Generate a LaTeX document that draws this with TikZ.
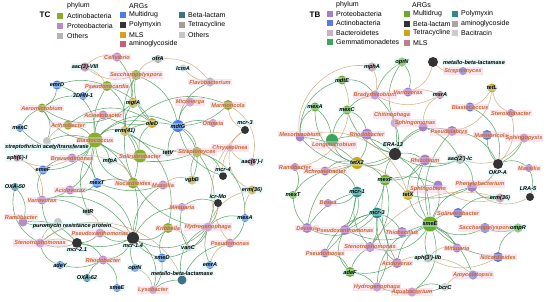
\documentclass[tikz,border=0pt]{standalone}
\usepackage{fontspec}
\setmainfont{Liberation Sans}
\usetikzlibrary{backgrounds}

% TC colours
\definecolor{tcAct}{HTML}{8AAC2C}
\definecolor{tcProt}{HTML}{B68CCB}
\definecolor{tcOth}{HTML}{B9B2B9}
\definecolor{tcMul}{HTML}{4C7DE6}
\definecolor{tcPol}{HTML}{333333}
\definecolor{tcMLS}{HTML}{D3A21E}
\definecolor{tcAmi}{HTML}{C65C80}
\definecolor{tcBeta}{HTML}{3E7286}
\definecolor{tcTet}{HTML}{A59E96}
\definecolor{tcOthA}{HTML}{C6C6C6}
% TB colours
\definecolor{tbProt}{HTML}{A67FCB}
\definecolor{tbAct}{HTML}{5B78E6}
\definecolor{tbBac}{HTML}{C8B0C8}
\definecolor{tbGem}{HTML}{3CA55C}
\definecolor{tbMul}{HTML}{6CAA2C}
\definecolor{tbBeta}{HTML}{333333}
\definecolor{tbTet}{HTML}{D0A417}
\definecolor{tbMLS}{HTML}{C27A8E}
\definecolor{tbPol}{HTML}{2C8C88}
\definecolor{tbAmi}{HTML}{ADA59E}
\definecolor{tbBci}{HTML}{CBCBCB}
% lines and labels
\definecolor{lnGreen}{HTML}{3E9652}
\definecolor{lnTan}{HTML}{C8A26E}
\definecolor{genusText}{HTML}{C4662E}
\definecolor{labPink}{HTML}{F8C8DC}
\definecolor{labCyan}{HTML}{C8F4F4}

\tikzset{
  vtx/.style={circle, inner sep=0pt, minimum size=#1pt},
  glab/.style={font=\fontsize{5.6}{6}\selectfont\bfseries\itshape, text=genusText,
    fill=labPink, fill opacity=.45, text opacity=1, inner sep=1pt},
  alab/.style={font=\fontsize{5.6}{6}\selectfont\bfseries\itshape, text=black,
    fill=labCyan, fill opacity=.45, text opacity=1, inner sep=1pt},
  link/.style={line width=.55pt, draw=#1, draw opacity=.8},
  legsq/.style={rectangle, inner sep=0pt, minimum size=6pt},
  legtxt/.style={font=\fontsize{7}{8}\selectfont, anchor=west, inner sep=0pt},
}

\begin{document}
\begin{tikzpicture}[x=1pt, y=-1pt]
\useasboundingbox (0,0) rectangle (550,301);

% ---------------- legends
\node[font=\fontsize{8}{9}\selectfont\bfseries] (tcname) at (45,15) {TC};
\node[legtxt] (tcphy) at (67,6) {phylum};
\foreach \id/\y/\col/\lab in {a/16/tcAct/Actinobacteria, b/26/tcProt/Proteobacteria, c/36/tcOth/Others}{
  \node[legsq, fill=\col] (tcp\id) at (60,\y) {};
  \node[legtxt] (tcp\id-t) at (67,\y) {\lab};
}
\node[legtxt] (tcarg) at (129,6) {ARGs};
\foreach \id/\x/\y/\col/\lab in {a/123/15/tcMul/Multidrug, b/123/25/tcPol/Polymyxin, c/123/35/tcMLS/MLS,
    d/123/44/tcAmi/aminoglycoside, e/182/15/tcBeta/Beta-lactam, f/182/25/tcTet/Tetracycline, g/182/35/tcOthA/Others}{
  \node[legsq, fill=\col] (tca\id) at (\x,\y) {};
  \node[legtxt] (tca\id-t) at (\x+6,\y) {\lab};
}

\node[font=\fontsize{8}{9}\selectfont\bfseries] (tbname) at (315,15) {TB};
\node[legtxt] (tbphy) at (336,5) {phylum};
\foreach \id/\y/\col/\lab in {a/14/tbProt/Proteobacteria, b/23/tbAct/Actinobacteria, c/33/tbBac/Bacteroidetes, d/42/tbGem/Gemmatimonadetes}{
  \node[legsq, fill=\col] (tbp\id) at (330,\y) {};
  \node[legtxt] (tbp\id-t) at (336,\y) {\lab};
}
\node[legtxt] (tbarg) at (412,5) {ARGs};
\foreach \id/\x/\y/\col/\lab in {a/407/14/tbMul/Multidrug, b/407/24/tbBeta/Beta-lactam, c/407/33/tbTet/Tetracycline,
    d/407/43/tbMLS/MLS, e/455/14/tbPol/Polymyxin, f/455/24/tbAmi/aminoglycoside, g/455/33/tbBci/Bacitracin}{
  \node[legsq, fill=\col] (tba\id) at (\x,\y) {};
  \node[legtxt] (tba\id-t) at (\x+6,\y) {\lab};
}

% ---------------- TC genera
\foreach \id/\x/\y/\s/\col/\ox/\oy/\lab in {
  ccellv/117/57/9/tcProt/0/0/Cellvibrio, cpsnoc/107/86/10/tcAct/0/0/Pseudonocardia,
  csacch/136/75/10/tcAct/0/0/Saccharopolyspora, cflavo/210/82/9/tcOth/0/0/Flavobacterium,
  caerom/42/108/9/tcAct/0/0/Aeromicrobium, cacine/103/115/9/tcProt/0/0/Acinetobacter,
  carthr/68/125/9/tcAct/0/0/Arthrobacter, cblast/95/140/15/tcAct/0/0/Blastococcus,
  cbrevu/72/158/9/tcProt/0/0/Brevundimonas, cnocar/133/183/11/tcAct/0/0/Nocardioides,
  cacido/70/190/9/tcProt/0/0/Acidovorax, cmicro/190/102/9/tcProt/0/0/Microvirga,
  cmarmo/228/105/10/tcAct/0/0/Marmoricola, cottow/213/123/8/tcProt/0/0/Ottowia,
  cchrys/230/148/7/tcOth/0/0/Chryseolinea, csolir/140/156/13/tcAct/0/0/Solirubrobacter,
  cstrep/197/152/10/tcAct/0/0/Streptomyces, cmassi/163/185/9/tcProt/0/0/Massilia,
  cvario/42/200/9/tcProt/0/0/Variovorax, cramli/23/222/9/tcProt/-2/-5/Ramlibacter,
  cpsxan/100/233/9/tcProt/0/0/Pseudoxanthomonas, csteno/40/243/9/tcProt/0/0/Stenotrophomonas,
  crhodo/103/260/9/tcProt/0/0/Rhodobacter, cmitsu/182/207/8/tcProt/0/0/Mitsuaria,
  ckribb/168/228/10/tcAct/0/0/Kribbella, chydro/208/227/9/tcProt/0/0/Hydrogenophaga,
  cpsmon/230/243/9/tcProt/0/0/Pseudomonas, clysob/153/290/8/tcProt/0/0/Lysobacter}{
  \node[vtx=\s, fill=\col] (\id) at (\x,\y) {};
  \node[glab] (\id-t) at (\x+\ox,\y+\oy) {\lab};
}

% ---------------- TC ARGs
\foreach \id/\x/\y/\s/\col/\ox/\oy/\lab in {
  caac3/85/67/9/tcAmi/0/0/aac(3)-VIII, cotra/158/59/8/tcTet/0/0/otrA,
  clcma/183/68/7/tcOthA/0/0/lcmA, cemrd/57/85/9/tcMul/0/0/emrD,
  cdhn/83/96/8/tcMul/0/0/3DHN-1, cmexc/20/128/8/tcMul/0/0/mexC,
  cerm41/125/131/10/tcMLS/0/0/erm(41), csat/47/141/8/tcOthA/0/6/streptothricin acetyltransferase,
  caph6/17/158/7/tcAmi/0/0/aph(6)-I, cmfpa/110/161/7/tcOthA/0/0/mfpA,
  cemef/43/170/9/tcMul/0/0/emeF, coxa50/15/187/8/tcBeta/0/0/OXA-50,
  cmext/97/183/10/tcMul/0/0/mexT, cmgta/133/103/10/tcMLS/0/0/mgtA,
  coled/152/123/10/tcMLS/0/0/oleD, cmdtg/178/126/12/tcMul/0/0/mdtG,
  cmcr3/245/130/8/tcPol/0/-7/mcr-3, ctetv/168/153/7/tcTet/0/0/tetV,
  caac6/252/162/8/tcAmi/0/0/aac(6')-I, cmcr4/223/176/8/tcPol/0/-6/mcr-4,
  cvgbb/192/180/9/tcMLS/0/0/vgbB, cerm36/252/190/9/tcMLS/0/0/erm(36),
  cpuro/58/222/8/tcOthA/14/4/puromycin resistance protein, ctetr/88/212/7/tcTet/0/0/tetR,
  cmcr21/77/243/10/tcPol/0/7/mcr-2.1, cadey/60/265/8/tcMul/0/0/adeY,
  coxa62/87/278/8/tcBeta/0/0/OXA-62, csmee/117/288/8/tcMul/0/0/smeE,
  cmcr14/133/238/12/tcPol/0/8/mcr-1.4, coprn/135/268/8/tcMul/0/0/oprN,
  cicrmo/218/203/8/tcPol/0/-7/icr-Mo, cmexa/245/218/8/tcMul/0/0/mexA,
  cvanc/188/248/7/tcOthA/0/0/vanC, csmed/162/258/9/tcMul/0/0/smeD,
  cemra/210/265/8/tcMul/0/0/emrA, cmbl/182/280/9/tcBeta/0/-7/metallo-beta-lactamase}{
  \node[vtx=\s, fill=\col] (\id) at (\x,\y) {};
  \node[alab] (\id-t) at (\x+\ox,\y+\oy) {\lab};
}

% ---------------- TB genera
\foreach \id/\x/\y/\s/\col/\ox/\oy/\lab in {
  bbrady/375/95/9/tbProt/0/0/Bradyrhizobium, bvario/408/92/9/tbProt/0/0/Variovorax,
  bstrep/463/71/8/tbAct/0/0/Streptomyces, bchiti/395/123/9/tbBac/-3/-8/Chitinophaga,
  bmeso/300/137/9/tbProt/0/-3/Mesorhizobium, blongi/332/140/12/tbGem/2/5/Longimicrobium,
  brhodo/367/134/11/tbProt/0/0/Rhodobacter, bsphm/423/127/9/tbProt/-8/-4/Sphingomonas,
  bramli/295/167/8/tbProt/0/0/Ramlibacter, bachro/325/171/9/tbProt/0/0/Achromobacter,
  bblast/470/107/9/tbAct/0/0/Blastococcus, bstero/511/113/8/tbProt/0/0/Steroidobacter,
  bpsdl/452/131/10/tbProt/-3/1/Pseudolabrys, bmarmo/487/135/10/tbAct/4/0/Marmoricola,
  bsppx/524/138/9/tbProt/0/0/Sphingopyxis, brhizo/425/160/11/tbProt/0/0/Rhizobium,
  bmassi/529/168/8/tbProt/0/0/Massilia, bpheny/472/187/10/tbProt/8/-3/Phenylobacterium,
  bsphb/438/185/9/tbProt/-10/4/Sphingobium, bbosea/328/203/8/tbProt/0/0/Bosea,
  bdevo/307/228/10/tbProt/0/0/Devosia, bpsx/345/230/10/tbProt/0/0/Pseudoxanthomonas,
  bthio/402/232/10/tbProt/0/0/Thiobacillus, bsteno/370/247/10/tbProt/0/0/Stenotrophomonas,
  bpsm/325/253/9/tbProt/0/0/Pseudomonas, bacido/397/263/10/tbProt/0/0/Acidovorax,
  bhydro/377/287/9/tbProt/0/0/Hydrogenophaga, baqua/412/292/9/tbProt/0/0/Aquabacterium,
  bsolir/458/213/10/tbAct/0/0/Solirubrobacter, bsacch/485/228/10/tbAct/0/0/Saccharopolyspora,
  bmitsu/457/248/9/tbProt/0/0/Mitsuaria, bnoca/498/257/10/tbAct/0/0/Nocardioides,
  bamyc/473/275/9/tbAct/0/0/Amycolatopsis}{
  \node[vtx=\s, fill=\col] (\id) at (\x,\y) {};
  \node[glab] (\id-t) at (\x+\ox,\y+\oy) {\lab};
}

% ---------------- TB ARGs
\foreach \id/\x/\y/\s/\col/\ox/\oy/\lab in {
  bmpha/372/67/9/tbMLS/0/0/mphA, boprn/402/62/9/tbMul/0/0/oprN,
  bmdte/342/80/9/tbMul/0/0/mdtE, bmbl/433/62/10/tbBeta/41/0/metallo-beta-lactamase,
  bmsra/440/95/8/tbMLS/0/0/msrA, btetl/492/88/9/tbTet/0/0/tetL,
  bmexa/315/107/9/tbMul/0/0/mexA, bmexc/347/110/9/tbMul/0/0/mexC,
  bera/395/154/12/tbBeta/-2/-9/ERA-13, btetx2/357/163/12/tbTet/0/0/tetX2,
  bmexg/385/180/11/tbMul/0/0/mexF, bmcra/357/192/11/tbPol/0/0/mcr-1,
  bmext/293/195/8/tbMul/0/0/mexT, baac2/460/159/10/tbAmi/0/0/aac(2')-Ic,
  bokpa/498/164/10/tbBeta/0/9/OKP-A, blra5/530/197/8/tbBeta/-2/-8/LRA-5,
  btetx/408/195/10/tbTet/0/0/tetX, bmcrb/377/213/11/tbPol/0/0/mcr-3,
  badef/350/272/10/tbMul/0/0/adeF, berm36/500/198/9/tbMLS/0/0/erm(36),
  bsmee/430/224/15/tbMul/0/0/smeE, bompr/518/228/9/tbMul/0/0/ompR,
  baph3/428/258/9/tbAmi/0/0/aph(3')-IIb, bbcrc/445/287/8/tbBci/0/0/bcrC}{
  \node[vtx=\s, fill=\col] (\id) at (\x,\y) {};
  \node[alab] (\id-t) at (\x+\ox,\y+\oy) {\lab};
}

% ---------------- links
\begin{pgfonlayer}{background}
\fill[white] (0,0) rectangle (550,301);
\foreach \p/\q/\k in {
  cblast/caerom/15, cblast/carthr/-10, cblast/cacine/10, cblast/cerm41/15, cblast/csat/-10,
  cblast/cbrevu/10, cblast/cmexc/20, cblast/cemrd/-20, cblast/cpsnoc/10, cblast/cmdtg/20,
  cblast/coled/15, cblast/ctetr/-15, cblast/cmcr14/20, cblast/cstrep/-15, cblast/cmfpa/10,
  cblast/cemef/15, cblast/cmext/-10, cblast/cvario/20, cblast/cnocar/-20,
  cerm41/csacch/10, cerm41/cpsnoc/-15, cerm41/cmarmo/20, cerm41/cmdtg/10, cerm41/cstrep/-10,
  cerm41/cnocar/15, cerm41/ckribb/20, cerm41/chydro/-25, cerm41/cmgta/10, cerm41/csolir/10,
  cmdtg/cmarmo/-10, cmdtg/cflavo/15, cmdtg/cmicro/10, cmdtg/ctetv/-10, cmdtg/cstrep/15,
  cmdtg/cvgbb/20, cmdtg/cmcr4/-15, cmdtg/csacch/-15, cmdtg/cottow/10,
  coled/csacch/15, coled/cpsnoc/-10, coled/csolir/-15, coled/cacine/10, coled/carthr/-20,
  cmgta/csacch/10, cmgta/ccellv/-10, cmgta/caerom/20,
  cmcr14/cpsxan/15, cmcr14/csteno/-20, cmcr14/crhodo/15, cmcr14/cmcr21/10, cmcr14/ckribb/-15,
  cmcr14/chydro/-20, cmcr14/cmitsu/15, cmcr14/clysob/20, cmcr14/csmed/-10, cmcr14/cmassi/15,
  cmcr14/cacido/-25, cmcr14/cvario/-20,
  cmcr21/cramli/-15, cmcr21/csteno/10, cmcr21/cpsxan/-10, cmcr21/crhodo/15, cmcr21/cvario/20,
  cstrep/cmcr4/15, cstrep/cvgbb/-10, cstrep/cmexa/20, cstrep/chydro/15,
  cmext/cnocar/10, cmext/cbrevu/-15, cmext/cacido/15, cmext/cmassi/-10,
  csmed/clysob/10, csmed/chydro/-15, csmed/ckribb/15, cmbl/clysob/-10, cmbl/chydro/20,
  cmbl/cpsmon/15, cemra/chydro/10, cvanc/chydro/-15, cvanc/cmitsu/10, cmexa/chydro/-15,
  cmexa/cpsmon/10, cicrmo/cmitsu/-15, cicrmo/chydro/10, coprn/cmcr14/10, csmee/crhodo/-15,
  coxa62/crhodo/10, cadey/csteno/15, cadey/crhodo/-10, csat/caerom/-15, cemrd/caerom/15,
  cemrd/cpsnoc/10, cdhn/cpsnoc/15, cdhn/caerom/-10, cmexc/caerom/10, cemef/cbrevu/10,
  cemef/cvario/-15, coxa50/csteno/-20, coxa50/cramli/15, cpuro/cramli/10, ctetr/cvario/-10}{
  \pgfmathsetmacro\kk{1.8*\k}
  \draw[link=lnGreen, bend left=\kk] (\p) to (\q);
}
\foreach \p/\q/\k in {
  caac3/ccellv/15, caac3/csacch/-15, caac3/cpsnoc/10, cotra/cflavo/15, cotra/csacch/-10,
  clcma/cflavo/-10, caac6/cchrys/15, caac6/cmarmo/-20, cerm36/cmexa/-10, cerm36/cchrys/20,
  cmcr3/cmarmo/15, cmcr3/cchrys/-10, cmcr4/cchrys/10, cvgbb/cmassi/-15, ctetv/cstrep/10,
  cpuro/csteno/-10, ctetr/cpsxan/15, caph6/cvario/20, cmfpa/cbrevu/-10, cmfpa/cnocar/15,
  cemra/cpsmon/15, coprn/clysob/15, cmbl/csteno/-30, csat/carthr/10, cvanc/ckribb/-20,
  cmcr3/cpsmon/-25, cerm36/chydro/-15, caph6/cbrevu/-15, cmcr21/csteno/-10}{
  \pgfmathsetmacro\kk{1.8*\k}
  \draw[link=lnTan, bend left=\kk] (\p) to (\q);
}

\foreach \p/\q/\k in {
  bsmee/brhizo/15, bsmee/bsphb/-10, bsmee/bpheny/15, bsmee/bsolir/10, bsmee/bsacch/-15,
  bsmee/bmitsu/10, bsmee/baph3/-10, bsmee/bsteno/20, bsmee/bacido/-15, bsmee/bpsx/15,
  bsmee/btetx/10, bsmee/bera/-15, bsmee/baqua/20, bsmee/bhydro/-20, bsmee/bpsdl/15,
  bsmee/bnoca/-10, bsmee/bamyc/10,
  bera/brhodo/10, bera/blongi/-15, bera/bmexc/15, bera/bchiti/-10, bera/bsphm/10,
  bera/btetx2/15, bera/bmexg/-10, bera/bpsdl/20, bera/baac2/-15, bera/brhizo/10,
  bera/bbrady/-15, bera/bmeso/20,
  btetx2/bmeso/-10, btetx2/bramli/10, btetx2/bachro/-15, btetx2/blongi/15, btetx2/brhodo/-10,
  btetx2/bmexa/20, btetx2/bmexg/10, btetx2/bdevo/-15,
  bmexg/bsphb/10, bmexg/brhizo/-15, bmexg/bsteno/15, bmexg/bacido/-10, bmexg/bpsx/15,
  bmcra/bdevo/-10, bmcra/bpsx/15, bmcra/bsteno/-15, bmcra/bpsm/10, bmcra/bbosea/15,
  bmcra/bachro/-20, bmcrb/bpsx/-10, bmcrb/bsteno/10, bmcrb/bacido/-15, bmcrb/bhydro/15,
  bmcrb/bdevo/20, bmcrb/bpsm/-15, bmcrb/bthio/10,
  badef/bsteno/10, badef/bpsm/-15, badef/bhydro/10, badef/bacido/-10, badef/bpsx/20,
  bmext/bramli/-15, bmext/bachro/10, bmext/bdevo/-10,
  bmexa/bmeso/-15, bmexa/blongi/10, bmexc/brhodo/15, bmexc/blongi/-10, bmexc/bbrady/10,
  bmdte/bbrady/15, bmdte/bmeso/-20, boprn/bbrady/-10, boprn/bvario/15, boprn/bchiti/-15,
  bokpa/bmarmo/10, bokpa/bpsdl/-15, bokpa/bmassi/15, bokpa/bsppx/-10, bokpa/bpheny/15,
  bokpa/bblast/-20, baac2/brhizo/10, baac2/bsphm/-10, baac2/bpheny/15,
  btetx/bpheny/-10, btetx/bsphb/10, btetx/brhizo/15, berm36/bsolir/-15, berm36/bpheny/15,
  bompr/bsacch/10, bompr/bnoca/-15, blra5/bmassi/-10, bbcrc/baqua/-15, bbcrc/bhydro/10}{
  \pgfmathsetmacro\kk{1.8*\k}
  \draw[link=lnGreen, bend left=\kk] (\p) to (\q);
}
\foreach \p/\q/\k in {
  bmbl/bstrep/-15, bmbl/bvario/15, bmsra/bvario/-10, bmsra/bbrady/15, btetl/bpsdl/20,
  btetl/bstero/-15, btetl/bblast/10, bmdte/bramli/30, bmpha/bbrady/10, bmpha/bmeso/-30,
  baac2/bsppx/-20, berm36/bsphb/15, berm36/bsteno/-20, baph3/bmitsu/15, baph3/bacido/-10,
  baph3/bamyc/10, baph3/bnoca/-15, bbcrc/bamyc/15, btetx/bachro/-20, btetx/bmeso/-25,
  blra5/bpheny/20, bokpa/bstero/-15, bmsra/bsphm/-15}{
  \pgfmathsetmacro\kk{1.8*\k}
  \draw[link=lnTan, bend left=\kk] (\p) to (\q);
}
\end{pgfonlayer}
\end{tikzpicture}
\end{document}
